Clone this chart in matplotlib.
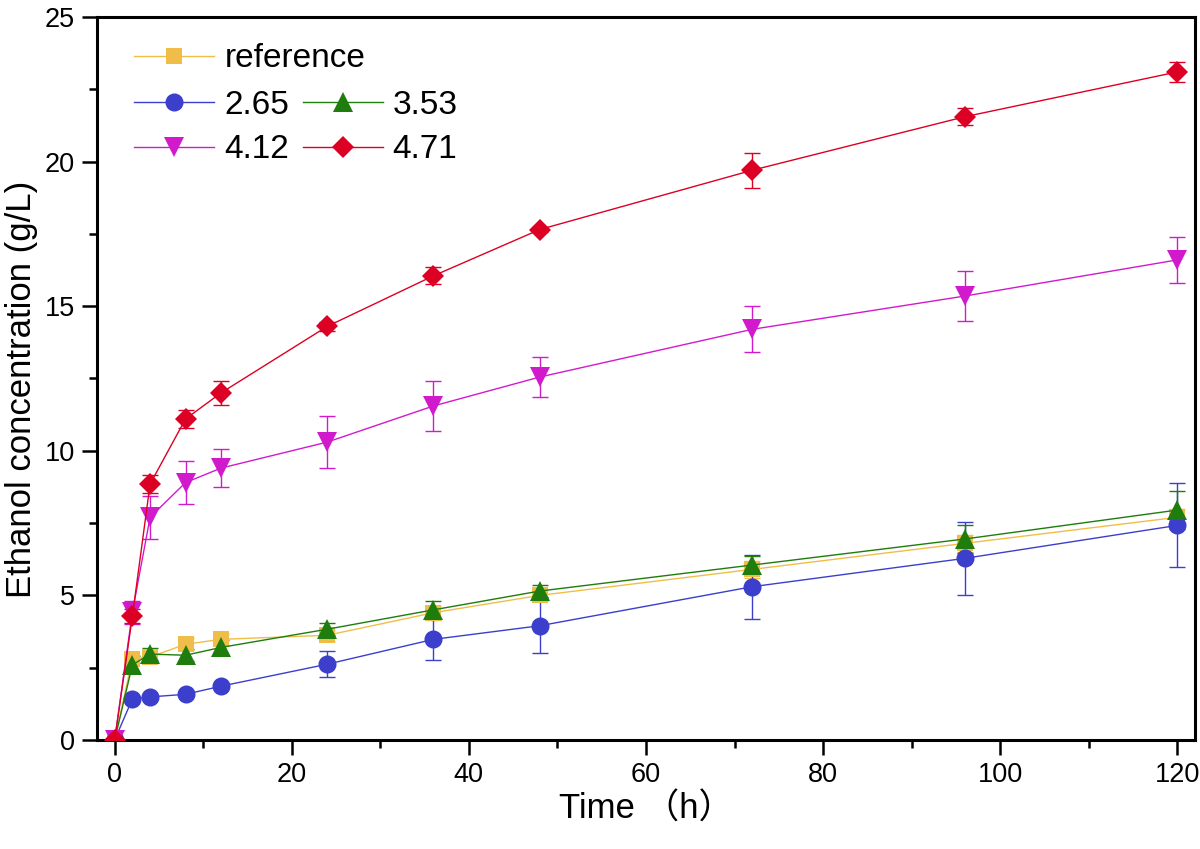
import matplotlib.pyplot as plt
from matplotlib.ticker import MultipleLocator
from matplotlib.lines import Line2D

plt.rcParams['font.family'] = ['Liberation Sans', 'Noto Sans CJK SC', 'DejaVu Sans']

# Данные
time = [0, 2, 4, 8, 12, 24, 36, 48, 72, 96, 120]

ref = [0, 2.80, 2.87, 3.31, 3.48, 3.62, 4.40, 5.00, 5.90, 6.80, 7.70]
ref_err = [0, 0.15, 0.15, 0.2, 0.2, 0.2, 0.25, 0.2, 0.3, 0.3, 0.3]

c265 = [0, 1.42, 1.49, 1.58, 1.86, 2.62, 3.48, 3.95, 5.30, 6.28, 7.42]
c265_err = [0, 0.1, 0.1, 0.1, 0.1, 0.45, 0.7, 0.95, 1.1, 1.25, 1.45]

c353 = [0, 2.60, 2.97, 2.93, 3.20, 3.83, 4.50, 5.15, 6.05, 6.95, 7.95]
c353_err = [0, 0.3, 0.2, 0.2, 0.25, 0.2, 0.3, 0.2, 0.3, 0.5, 0.65]

c412 = [0, 4.42, 7.70, 8.90, 9.40, 10.30, 11.55, 12.55, 14.20, 15.35, 16.60]
c412_err = [0, 0.4, 0.75, 0.75, 0.65, 0.9, 0.85, 0.7, 0.8, 0.85, 0.8]

c471 = [0, 4.28, 8.85, 11.10, 12.00, 14.30, 16.05, 17.65, 19.70, 21.55, 23.10]
c471_err = [0, 0.25, 0.3, 0.3, 0.4, 0.15, 0.3, 0.1, 0.6, 0.3, 0.35]

series = [
    ('reference', ref, ref_err, '#F0BE48', 's', 11),
    ('2.65', c265, c265_err, '#3B3FCC', 'o', 13),
    ('3.53', c353, c353_err, '#1E7D0C', '^', 14),
    ('4.12', c412, c412_err, '#D21ACD', 'v', 14),
    ('4.71', c471, c471_err, '#DC0024', 'D', 11),
]

fig = plt.figure(figsize=(12, 8.49), dpi=100)
ax = fig.add_axes([0.0808, 0.1284, 0.915, 0.8516])

handles = {}
for i, (name, vals, err, color, mk, ms) in enumerate(series):
    ax.errorbar(time, vals, yerr=err, fmt='none', ecolor=color,
                elinewidth=1.0, capsize=6, capthick=1.0, zorder=2 + i * 0.1)
    ax.plot(time, vals, color=color, lw=1.0, marker=mk, markersize=ms,
            markeredgewidth=0, zorder=3 + i * 0.1)
    handles[name] = Line2D([], [], color=color, lw=1.0, marker=mk,
                           markersize=ms, markeredgewidth=0)

# Легенда: первая строка отдельно, затем две колонки
leg_kw = dict(frameon=False, fontsize=24, handlelength=2.4,
              handletextpad=0.3, borderpad=0, borderaxespad=0)
leg1 = ax.legend([handles['reference']], ['reference'], loc='center left',
                 bbox_to_anchor=(0.034, 0.942), **leg_kw)
ax.add_artist(leg1)
ax.legend([handles['2.65'], handles['4.12'], handles['3.53'], handles['4.71']],
          ['2.65', '4.12', '3.53', '4.71'], ncol=2, loc='center left',
          bbox_to_anchor=(0.034, 0.847), columnspacing=0.4,
          labelspacing=0.4, **leg_kw)

ax.set_xlim(-2, 122)
ax.set_ylim(0, 25)
ax.xaxis.set_major_locator(MultipleLocator(20))
ax.xaxis.set_minor_locator(MultipleLocator(10))
ax.yaxis.set_major_locator(MultipleLocator(5))
ax.yaxis.set_minor_locator(MultipleLocator(2.5))
ax.tick_params(which='major', direction='out', length=11, width=1.8,
               labelsize=19.5, pad=5, top=False, right=False)
ax.tick_params(which='minor', direction='out', length=6, width=1.8,
               top=False, right=False)
for s in ax.spines.values():
    s.set_linewidth(2.2)

ax.set_xlabel('Time （h）', fontsize=25, labelpad=3)
ax.set_ylabel('Ethanol concentration (g/L)', fontsize=25)
ax.yaxis.set_label_coords(-0.054, 0.485)

plt.savefig('out.png', dpi=100)
